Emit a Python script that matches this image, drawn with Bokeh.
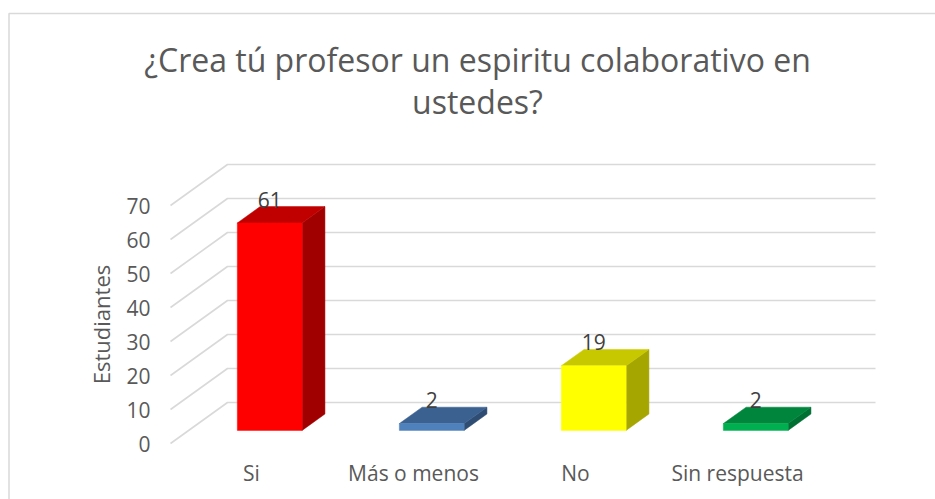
import numpy as np
from bokeh.plotting import figure
from bokeh.models import Range1d, ColumnDataSource
from bokeh.core.properties import value
from bokeh.embed import file_html
from bokeh.resources import INLINE

# ---------------- data ----------------
categories = ["Si", "Más o menos", "No", "Sin respuesta"]
counts = [61, 2, 19, 2]
front_colors = ["#FF0000", "#4F81BD", "#FFFF00", "#00B050"]
top_colors = ["#C00000", "#3B6190", "#C8C800", "#00853C"]
side_colors = ["#A00000", "#2F4D73", "#A6A600", "#006F32"]
y_ticks = [0, 10, 20, 30, 40, 50, 60, 70]
title_lines = ["¿Crea tú profesor un espiritu colaborativo en", "ustedes?"]
y_label = "Estudiantes"

# ---------------- layout ----------------
FONT = "Open Sans"
W, H = 935, 499
PX_X = 162.0    # pixels per category
PX_Y = 3.4      # pixels per student
X0_PX = 251     # canvas x of category 0 (floor front)
Y0_PX = 443     # canvas y of value 0 (floor front)
x_start = -X0_PX / PX_X
x_end = x_start + W / PX_X
y_end = Y0_PX / PX_Y
y_start = y_end - H / PX_Y


def dx(px):  # canvas px -> data x
    return x_start + px / PX_X


def dy(py):  # canvas px -> data y
    return y_end - py / PX_Y


DX = 57 / PX_X   # full floor depth in data units
DY = 41 / PX_Y
DF, DB = 0.32, 0.72   # bar front / back depth fractions
BW = 0.40             # bar width (category units)

p = figure(width=W, height=H, x_range=Range1d(x_start, x_end),
           y_range=Range1d(y_start, y_end), output_backend="svg",
           toolbar_location=None, min_border=0,
           x_axis_type=None, y_axis_type=None)
p.outline_line_color = None
p.background_fill_color = "white"
p.border_fill_color = "white"

# chart-area border (left and top visible)
p.line([dx(8.5), dx(8.5), dx(960)], [dy(520), dy(13), dy(13)],
       line_color="#D9D9D9", line_width=1.5)

# ---------------- gridlines (side wall + back wall) ----------------
n = len(categories)
gx, gy = [], []
for t in y_ticks:
    gx.append([-0.5, -0.5 + DX, n - 0.5 + DX])
    gy.append([t, t + DY, t + DY])
p.multi_line(gx, gy, line_color="#D9D9D9", line_width=1.6)

# ---------------- bars ----------------
xc = np.arange(n, dtype=float)
fx, fy = DX * DF, DY * DF
bx, by = DX * DB, DY * DB
ddx, ddy = bx - fx, by - fy
left = xc - BW / 2 + fx
right = xc + BW / 2 + fx

side_xs, side_ys, top_xs, top_ys = [], [], [], []
for i, v in enumerate(counts):
    side_xs.append([right[i], right[i], right[i] + ddx, right[i] + ddx])
    side_ys.append([fy, fy + v, by + v, by])
    top_xs.append([left[i], right[i], right[i] + ddx, left[i] + ddx])
    top_ys.append([fy + v, fy + v, by + v, by + v])

p.patches(side_xs, side_ys, fill_color=side_colors, line_color=side_colors, line_width=0.5)
p.patches(top_xs, top_ys, fill_color=top_colors, line_color=top_colors, line_width=0.5)
p.quad(left=left, right=right, bottom=[fy] * n, top=[fy + v for v in counts],
       fill_color=front_colors, line_color=front_colors, line_width=0.5)

# value labels
lab = ColumnDataSource(dict(x=xc + fx, y=[by + v for v in counts],
                            t=[str(v) for v in counts]))
p.text(x="x", y="y", text="t", source=lab, text_align="center",
       text_baseline="alphabetic", y_offset=-7, text_font=value(FONT),
       text_font_size="21px", text_color="#404040")

# y tick labels (front edge of side wall)
tk = ColumnDataSource(dict(x=[-0.5] * len(y_ticks), y=y_ticks,
                           t=[str(t) for t in y_ticks]))
p.text(x="x", y="y", text="t", source=tk, text_align="right",
       text_baseline="middle", x_offset=-20, text_font=value(FONT),
       text_font_size="21px", text_color="#595959")

# category labels
cs = ColumnDataSource(dict(x=xc, y=[0] * n, t=categories))
p.text(x="x", y="y", text="t", source=cs, text_align="center",
       text_baseline="middle", y_offset=29, text_font=value(FONT),
       text_font_size="21px", text_color="#595959")

# y axis title
p.text(x=[-0.5], y=[(y_ticks[0] + y_ticks[-1]) / 2], text=[y_label],
       angle=np.pi / 2, text_align="center", text_baseline="middle",
       x_offset=-70, text_font=value(FONT), text_font_size="22px",
       text_color="#595959")

# chart title
p.text(x=[dx(477), dx(477)], y=[dy(59), dy(101)], text=title_lines,
       text_align="center", text_baseline="alphabetic",
       text_font=value(FONT), text_font_size="32px", text_color="#595959")

open("out.html", "w").write(file_html(p, INLINE))
